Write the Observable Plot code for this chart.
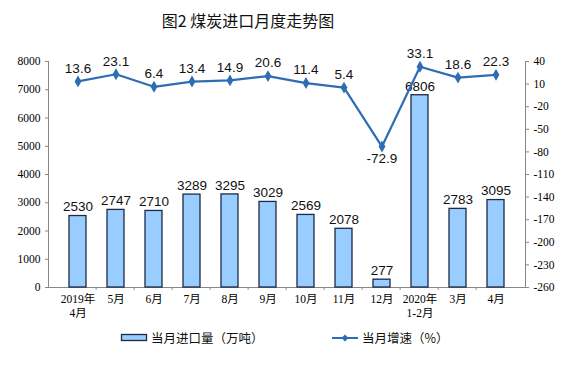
<!DOCTYPE html>
<html><head><meta charset="utf-8">
<script src="https://cdn.jsdelivr.net/npm/d3@7"></script>
<script src="https://cdn.jsdelivr.net/npm/@observablehq/plot@0.6"></script>
<style>
body{margin:0;background:#fff;font-family:"Noto Sans CJK SC",sans-serif;width:568px;height:382px;overflow:hidden}
#title{position:absolute;left:0;top:9px;width:496px;text-align:center;font-size:16px;line-height:22px;color:#111}
#chart{position:absolute;left:0;top:30px}
#chart g[aria-label$="tick label"] text{font-family:"Liberation Serif","Noto Sans CJK SC",serif}
#legend{position:absolute;left:0;top:325px;width:568px;height:30px;font-size:12.5px;color:#111}
.sw{position:absolute}
.lt{position:absolute;top:5px;line-height:16px}
</style>
</head><body>
<div id="title">图2&nbsp;煤炭进口月度走势图</div>
<div id="chart"></div>
<div id="legend">
  <svg class="sw" style="left:120px;top:8px" width="30" height="10"><rect x="1.5" y="1.5" width="25" height="6" fill="#99ccff" stroke="#1c2a48" stroke-width="1.3"/></svg>
  <span class="lt" style="left:151px">当月进口量（万吨）</span>
  <svg class="sw" style="left:331px;top:6px" width="30" height="14"><line x1="1" y1="7" x2="27" y2="7" stroke="#2e6db4" stroke-width="2"/><path d="M14,3.5L17.5,7L14,10.5L10.5,7Z" fill="#2e6db4"/></svg>
  <span class="lt" style="left:362px">当月增速（%）</span>
</div>
<script>
const categories = ["2019年\n4月","5月","6月","7月","8月","9月","10月","11月","12月","2020年\n1-2月","3月","4月"];
const imports = [2530,2747,2710,3289,3295,3029,2569,2078,277,6806,2783,3095];
const growth = [13.6,23.1,6.4,13.4,14.9,20.6,11.4,5.4,-72.9,33.1,18.6,22.3];
const leftTicks = [0,1000,2000,3000,4000,5000,6000,7000,8000];
const rightTicks = [40,10,-20,-50,-80,-110,-140,-170,-200,-230,-260];

const rMin = -260, rMax = 40, lMax = 8000;
const toLeft = v => (v - rMin) / (rMax - rMin) * lMax;
const fromLeft = v => v / lMax * (rMax - rMin) + rMin;

const data = categories.map((c, i) => ({cat: c, imp: imports[i], g: growth[i], gy: toLeft(growth[i])}));

const W = 568, H = 295, mL = 48, mR = 43;
const band = (W - mL - mR) / categories.length;
const tickFont = "Liberation Serif, Noto Sans CJK SC, serif";
const labelFont = "Liberation Sans, Arial, sans-serif";
const lineColor = "#2e6db4";

const plot = Plot.plot({
  width: W, height: H,
  marginTop: 31, marginBottom: 38, marginLeft: mL, marginRight: mR,
  x: {domain: categories, padding: 0.55, axis: null},
  y: {domain: [0, lMax], axis: null},
  marks: [
    Plot.frame({anchor: "left", stroke: "#888"}),
    Plot.frame({anchor: "right", stroke: "#888"}),
    Plot.frame({anchor: "bottom", stroke: "#888"}),
    Plot.axisY(leftTicks, {anchor: "left", tickSize: 3, tickPadding: 5, fontSize: 11.5, fontFamily: tickFont, stroke: "#888", tickFormat: d => String(d)}),
    Plot.axisY(rightTicks.map(toLeft), {anchor: "right", tickSize: 3, tickPadding: 5, fontSize: 11.5, fontFamily: tickFont, stroke: "#888", tickFormat: d => String(Math.round(fromLeft(d)))}),
    Plot.axisX({anchor: "bottom", tickSize: 0, tickPadding: 6, fontSize: 11.5, fontFamily: tickFont, lineHeight: 1.2, label: null}),
    Plot.ruleX(categories.slice(1), {x: d => d, dx: -band / 2, y1: 0, y2: -100, stroke: "#888"}),
    Plot.barY(data, {x: "cat", y: "imp", fill: "#99ccff", stroke: "#1c2a48", strokeWidth: 1.3}),
    Plot.text(data, {x: "cat", y: "imp", text: d => String(d.imp), dy: -9, fontSize: 13.5, fontFamily: labelFont, fill: "#111"}),
    Plot.line(data, {x: "cat", y: "gy", stroke: lineColor, strokeWidth: 2.2}),
    Plot.dot(data, {x: "cat", y: "gy", symbol: "diamond", r: 3.6, fill: lineColor}),
    Plot.text(data.filter(d => d.g >= 0), {x: "cat", y: "gy", text: d => d.g.toFixed(1), dy: -13, fontSize: 13.5, fontFamily: labelFont, fill: "#111"}),
    Plot.text(data.filter(d => d.g < 0), {x: "cat", y: "gy", text: d => d.g.toFixed(1), dy: 12, fontSize: 13.5, fontFamily: labelFont, fill: "#111"})
  ]
});
document.getElementById("chart").appendChild(plot);
</script>
</body></html>
